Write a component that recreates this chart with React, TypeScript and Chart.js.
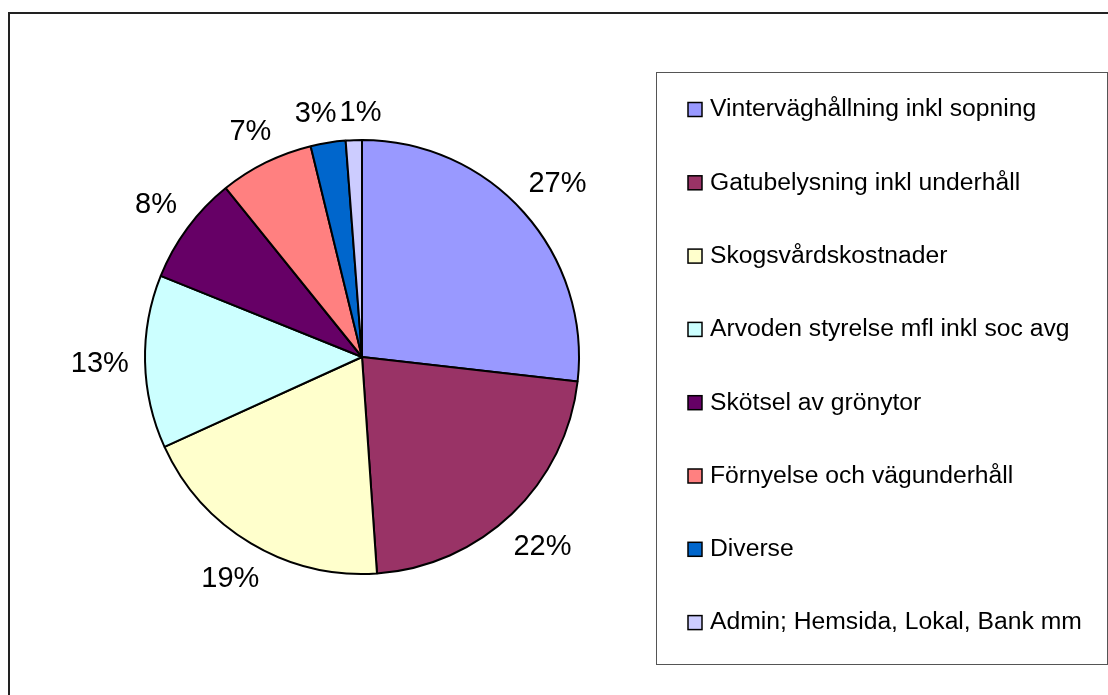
import React, { useEffect, useRef } from "react";
import { Chart, registerables } from "chart.js";

Chart.register(...registerables);

const categories = [
  "Vinterväghållning inkl sopning",
  "Gatubelysning inkl underhåll",
  "Skogsvårdskostnader",
  "Arvoden styrelse mfl inkl soc avg",
  "Skötsel av grönytor",
  "Förnyelse och vägunderhåll",
  "Diverse",
  "Admin; Hemsida, Lokal, Bank mm",
];
const values = [26.8, 22.1, 19.3, 12.9, 8.1, 7.0, 2.6, 1.2];
const colors = ["#9999FF", "#993366", "#FFFFCC", "#CCFFFF", "#660066", "#FF8080", "#0066CC", "#CCCCFF"];

const FONT = "'Liberation Sans', Arial, sans-serif";

const decorPlugin = {
  id: "decor",
  beforeDraw(chart: any) {
    const ctx = chart.ctx;
    ctx.save();
    ctx.fillStyle = "#ffffff";
    ctx.fillRect(0, 0, chart.width, chart.height);
    ctx.strokeStyle = "#222222";
    ctx.lineWidth = 2;
    ctx.strokeRect(9, 13, 1200, 800);
    ctx.strokeStyle = "#555555";
    ctx.lineWidth = 1;
    ctx.strokeRect(656.5, 72.5, 451, 592);
    ctx.restore();
  },
  afterDatasetsDraw(chart: any) {
    const ctx = chart.ctx;
    const meta = chart.getDatasetMeta(0);
    const data = chart.data.datasets[0].data as number[];
    const total = data.reduce((a, b) => a + b, 0);
    ctx.save();
    ctx.font = `29px ${FONT}`;
    ctx.fillStyle = "#000000";
    ctx.textAlign = "center";
    ctx.textBaseline = "middle";
    const items: { txt: string; x: number; y: number; w: number }[] = [];
    meta.data.forEach((arc: any, i: number) => {
      const { x, y, startAngle, endAngle, outerRadius } = arc.getProps(
        ["x", "y", "startAngle", "endAngle", "outerRadius"],
        true
      );
      const mid = (startAngle + endAngle) / 2;
      const dx = Math.cos(mid);
      const dy = Math.sin(mid);
      const txt = Math.round((data[i] / total) * 100) + "%";
      const w = ctx.measureText(txt).width;
      const h = 22;
      const dist = outerRadius + 16 + Math.abs(dx) * (w / 2) + Math.abs(dy) * (h / 2);
      items.push({ txt, x: x + dx * dist, y: y + dy * dist + 1, w });
    });
    // simple collision avoidance between neighbours
    for (let k = 0; k < 3; k++) {
      for (let i = 0; i < items.length; i++) {
        const a = items[i];
        const b = items[(i + 1) % items.length];
        if (Math.abs(a.y - b.y) < 24) {
          const need = (a.w + b.w) / 2 + 3;
          const gap = Math.abs(b.x - a.x);
          if (gap < need) {
            const s = (need - gap) / 2;
            if (a.x < b.x) { a.x -= s; b.x += s; } else { a.x += s; b.x -= s; }
          }
        }
      }
    }
    items.forEach((it) => ctx.fillText(it.txt, it.x, it.y));
    // legend
    ctx.font = `24.7px ${FONT}`;
    ctx.textAlign = "left";
    ctx.textBaseline = "middle";
    const labels = chart.data.labels as string[];
    const bg = chart.data.datasets[0].backgroundColor as string[];
    labels.forEach((lab, i) => {
      const cy = 109.5 + i * 73.3;
      ctx.fillStyle = bg[i];
      ctx.fillRect(688, cy - 7, 14, 14);
      ctx.strokeStyle = "#000000";
      ctx.lineWidth = 1.5;
      ctx.strokeRect(688, cy - 7, 14, 14);
      ctx.fillStyle = "#000000";
      ctx.fillText(lab, 710, cy);
    });
    ctx.restore();
  },
};

export default function App() {
  const ref = useRef<HTMLCanvasElement>(null);
  useEffect(() => {
    if (!ref.current) return;
    const chart = new Chart(ref.current, {
      type: "pie",
      data: {
        labels: categories,
        datasets: [
          {
            data: values,
            backgroundColor: colors,
            borderColor: "#000000",
            borderWidth: 2,
          },
        ],
      },
      options: {
        responsive: false,
        animation: false,
        devicePixelRatio: 1,
        layout: { padding: { left: 144, top: 139, right: 528, bottom: 120 } },
        plugins: {
          legend: { display: false },
          tooltip: { enabled: false },
        },
      },
      plugins: [decorPlugin],
    });
    return () => chart.destroy();
  }, []);
  return (
    <div style={{ position: "absolute", left: 0, top: 0, width: 1108, height: 695, background: "#fff" }}>
      <canvas ref={ref} width={1108} height={695} style={{ display: "block" }} />
    </div>
  );
}
